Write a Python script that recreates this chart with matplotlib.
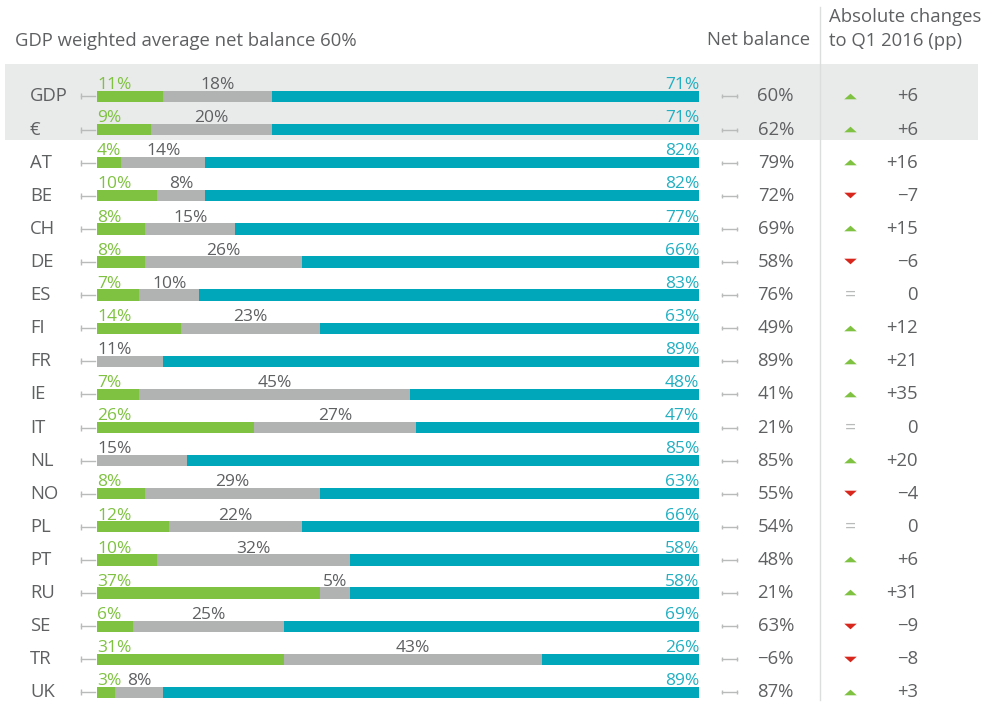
import matplotlib.pyplot as plt
import matplotlib.transforms as mtransforms
from matplotlib.patches import Rectangle

plt.rcParams['font.family'] = ['Open Sans', 'DejaVu Sans']

# data
countries = ['GDP', '€', 'AT', 'BE', 'CH', 'DE', 'ES', 'FI', 'FR', 'IE',
             'IT', 'NL', 'NO', 'PL', 'PT', 'RU', 'SE', 'TR', 'UK']
green = [11, 9, 4, 10, 8, 8, 7, 14, 0, 7, 26, 0, 8, 12, 10, 37, 6, 31, 3]
gray = [18, 20, 14, 8, 15, 26, 10, 23, 11, 45, 27, 15, 29, 22, 32, 5, 25, 43, 8]
teal = [71, 71, 82, 82, 77, 66, 83, 63, 89, 48, 47, 85, 63, 66, 58, 58, 69, 26, 89]
net_balance = [60, 62, 79, 72, 69, 58, 76, 49, 89, 41, 21, 85, 55, 54, 48, 21, 63, -6, 87]
changes = [6, 6, 16, -7, 15, -6, 0, 12, 21, 35, 0, 20, -4, 0, 6, 31, -9, -8, 3]

C_GREEN = '#7fc241'
C_GRAY = '#b1b3b3'
C_TEAL = '#00a6ba'
C_TEAL_TXT = '#22afc1'
C_TXT = '#5f6062'
C_RED = '#d9261c'
C_LIGHT = '#b9bbbb'

W, H = 984, 704
fig = plt.figure(figsize=(W / 100, H / 100), dpi=100)

def fx(px):
    return px / W

ax = fig.add_axes([fx(97), 0, fx(602), 640 / H])
ax.set_xlim(0, 100)
ax.set_ylim(18.35, -0.98)
ax.axis('off')

tr = mtransforms.blended_transform_factory(fig.transFigure, ax.transData)

# grey band behind GDP and euro rows
ax.add_patch(Rectangle((fx(5), -0.98), fx(973), 2.30, transform=tr,
                       facecolor='#e9eaea', edgecolor='none', zorder=0, clip_on=False))

y = list(range(len(countries)))
bh = 0.34
ax.barh(y, green, height=bh, color=C_GREEN, edgecolor='none', zorder=2)
ax.barh(y, gray, left=green, height=bh, color=C_GRAY, edgecolor='none', zorder=2)
lefts = [g + r for g, r in zip(green, gray)]
ax.barh(y, teal, left=lefts, height=bh, color=C_TEAL, edgecolor='none', zorder=2)

fs = 13.3
bfs = 12.5
lab_y = 0.22
for i, c in enumerate(countries):
    g, r, t = green[i], gray[i], teal[i]
    if g > 0:
        ax.text(0, i - lab_y, f'{g}%', color=C_GREEN, fontsize=bfs, ha='left', va='baseline')
        ax.text(g + r / 2, i - lab_y, f'{r}%', color=C_TXT, fontsize=bfs, ha='center', va='baseline')
    else:
        ax.text(0, i - lab_y, f'{r}%', color=C_TXT, fontsize=bfs, ha='left', va='baseline')
    ax.text(100, i - lab_y, f'{t}%', color=C_TEAL_TXT, fontsize=bfs, ha='right', va='baseline')

    # row label
    ax.text(fx(30), i, c, transform=tr, color=C_TXT, fontsize=fs, ha='left', va='center')

    # small connector markers
    ax.plot([fx(81), fx(95)], [i, i], transform=tr, color=C_LIGHT, lw=1, clip_on=False)
    ax.plot([fx(81)], [i], transform=tr, marker='|', ms=4, color=C_LIGHT, mew=1, clip_on=False)
    ax.plot([fx(722), fx(737)], [i, i], transform=tr, color=C_LIGHT, lw=1, clip_on=False)
    ax.plot([fx(722), fx(737)], [i, i], transform=tr, marker='|', ms=3, ls='none',
            color=C_LIGHT, mew=1, clip_on=False)

    # net balance
    nb = net_balance[i]
    nb_txt = f'{nb}%' if nb >= 0 else f'\u2212{abs(nb)}%'
    ax.text(fx(794), i, nb_txt, transform=tr, color=C_TXT, fontsize=fs, ha='right', va='center')

    # change
    ch = changes[i]
    if ch > 0:
        ch_txt = f'+{ch}'
        ax.plot([fx(850)], [i - 0.02], transform=tr, marker=[(-1, -0.45), (1, -0.45), (0, 0.45)],
                ms=9, color=C_GREEN, mew=0, clip_on=False)
    elif ch < 0:
        ch_txt = f'\u2212{abs(ch)}'
        ax.plot([fx(850)], [i - 0.02], transform=tr, marker=[(-1, 0.45), (1, 0.45), (0, -0.45)],
                ms=9, color=C_RED, mew=0, clip_on=False)
    else:
        ch_txt = '0'
        ax.text(fx(850), i, '=', transform=tr, color=C_LIGHT, fontsize=14, ha='center', va='center')
    ax.text(fx(918), i, ch_txt, transform=tr, color=C_TXT, fontsize=fs, ha='right', va='center')

# headers
fig.text(fx(15), 1 - 41 / H, 'GDP weighted average net balance 60%', color=C_TXT,
         fontsize=fs, ha='left', va='center')
fig.text(fx(810), 1 - 40 / H, 'Net balance', color=C_TXT, fontsize=fs, ha='right', va='center')
fig.text(fx(829), 1 - 17 / H, 'Absolute changes', color=C_TXT, fontsize=fs, ha='left', va='center')
fig.text(fx(829), 1 - 41 / H, 'to Q1 2016 (pp)', color=C_TXT, fontsize=fs, ha='left', va='center')

# column separator
fig.add_artist(plt.Line2D([fx(820), fx(820)], [1 - 7 / H, 1 - 700 / H], color='#dcdddd', lw=1))

fig.savefig('out.png', dpi=100)
